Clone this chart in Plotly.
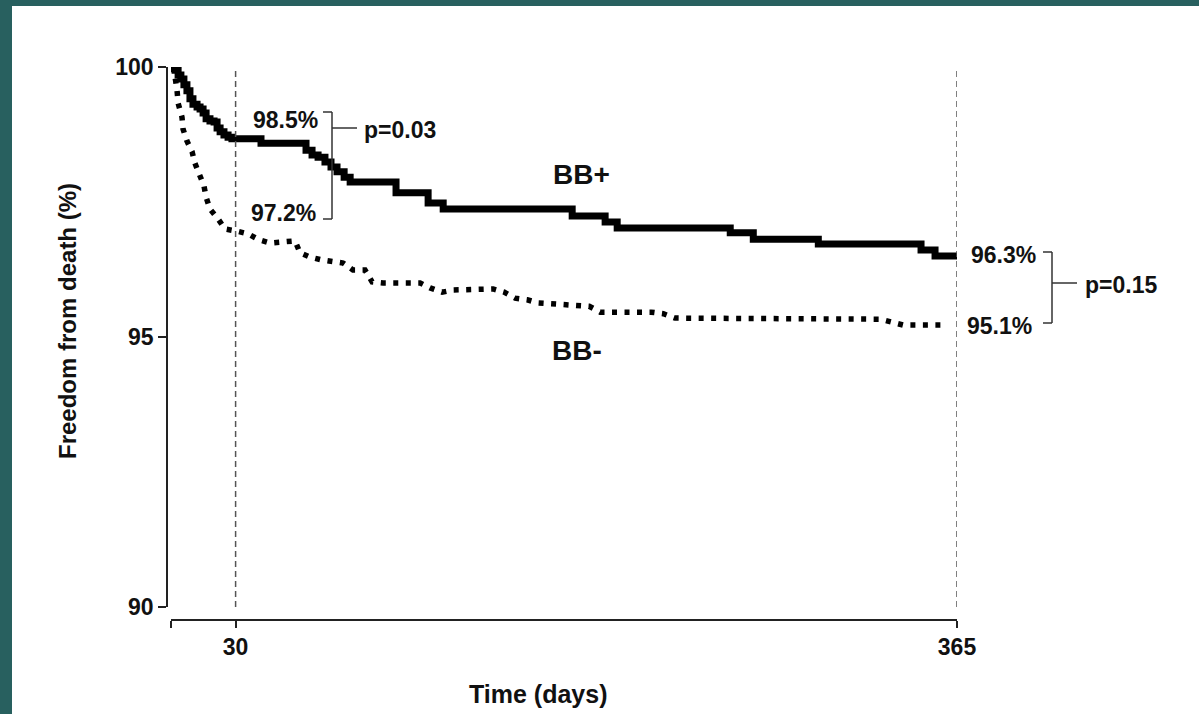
import plotly.graph_objects as go

W, H = 1199, 714

# ---------------- data ----------------
bbp_days = [0, 1.9, 3.3, 4.6, 6.0, 7.4, 8.8, 10.2, 12.1, 13.5, 14.9, 16.3, 18.1, 20.0,
            21.4, 22.8, 24.6, 26.5, 28.3, 41.8, 62.7, 65.5, 68.3, 71.5, 74.3, 77.1,
            80.4, 83.2, 104.5, 119.4, 126.4, 186.3, 201.6, 207.2, 259.7, 270.4,
            300.6, 348.3, 354.8, 365]
bbp_surv = [100, 99.94, 99.85, 99.78, 99.67, 99.56, 99.41, 99.31, 99.26, 99.22, 99.15,
            99.04, 99.00, 98.98, 98.87, 98.80, 98.74, 98.70, 98.67, 98.59, 98.46,
            98.37, 98.33, 98.24, 98.15, 98.06, 97.96, 97.87, 97.67, 97.48, 97.37,
            97.24, 97.13, 97.02, 96.93, 96.81, 96.72, 96.61, 96.50, 96.50]

bbm_days = [0, 1.9, 2.8, 3.3, 5.1, 5.6, 7.4, 9.8, 11.1, 13.0, 15.3, 16.3, 18.1, 21.8,
            25.1, 30.7, 35.8, 40.9, 46.0, 51.6, 57.6, 59.9, 64.6, 69.7, 74.8, 79.9,
            84.5, 90.1, 93.4, 98.5, 115.7, 120.3, 125.9, 131.0, 149.6, 154.7, 159.8,
            165.4, 170.5, 177.0, 194.2, 199.3, 223.0, 228.6, 234.1, 329.4, 334.9,
            340.1, 358.2]
bbm_surv = [100, 99.81, 99.57, 99.33, 99.07, 98.85, 98.63, 98.43, 98.22, 98.00, 97.80,
            97.59, 97.37, 97.19, 97.00, 96.96, 96.91, 96.80, 96.74, 96.76, 96.78,
            96.56, 96.48, 96.43, 96.39, 96.37, 96.24, 96.24, 96.02, 96.00, 96.00,
            95.91, 95.83, 95.87, 95.89, 95.83, 95.72, 95.69, 95.63, 95.61, 95.57,
            95.46, 95.46, 95.43, 95.35, 95.33, 95.26, 95.22, 95.22]

x_ticks = [0, 30, 365]
x_ticklabels = ["", "30", "365"]
y_ticks = [90, 95, 100]
y_ticklabels = ["90", "95", "100"]
ref_days = [30, 365]

# ---------------- helpers (pixel -> paper) ----------------
def px(x):
    return x / W

def py(y):
    return 1 - y / H

FONT = "Liberation Sans, Arial, Helvetica, sans-serif"
INK = "#111111"

fig = go.Figure()

fig.add_trace(go.Scatter(
    x=bbp_days, y=bbp_surv, mode="lines", line_shape="hv",
    line=dict(color="black", width=7), showlegend=False, hoverinfo="skip"))

fig.add_trace(go.Scatter(
    x=bbm_days, y=bbm_surv, mode="lines",
    line=dict(color="black", width=5.5, dash="5px,7.5px"), showlegend=False,
    hoverinfo="skip"))

shapes = []
# white page on teal background
shapes.append(dict(type="rect", xref="paper", yref="paper", x0=px(12), x1=1.0,
                   y0=0.0, y1=py(6), fillcolor="white", line=dict(width=0),
                   layer="below"))
# dashed reference lines
for d in ref_days:
    shapes.append(dict(type="line", xref="x", yref="y", x0=d, x1=d, y0=90, y1=100,
                       line=dict(color="#555555", width=1.5, dash="6px,4px")))

def bracket(xv, ytop, ybot, ymid, xtick, xmid):
    s = []
    ln = dict(color="#333333", width=1.5)
    s.append(dict(type="line", xref="paper", yref="paper", x0=px(xtick), x1=px(xv),
                  y0=py(ytop), y1=py(ytop), line=ln))
    s.append(dict(type="line", xref="paper", yref="paper", x0=px(xv), x1=px(xv),
                  y0=py(ytop), y1=py(ybot), line=ln))
    s.append(dict(type="line", xref="paper", yref="paper", x0=px(xtick), x1=px(xv),
                  y0=py(ybot), y1=py(ybot), line=ln))
    s.append(dict(type="line", xref="paper", yref="paper", x0=px(xv), x1=px(xmid),
                  y0=py(ymid), y1=py(ymid), line=ln))
    return s

shapes += bracket(332, 112, 219, 128, 323, 357)
shapes += bracket(1052, 252, 323, 283, 1043, 1077)

annotations = []
def label(text, x, y, size=23):
    annotations.append(dict(text=text, xref="paper", yref="paper", x=px(x), y=py(y),
                            xanchor="center", yanchor="middle", showarrow=False,
                            font=dict(family=FONT, size=size, color=INK, weight="bold")))

label("98.5%", 285, 120)
label("97.2%", 283, 213)
label("p=0.03", 400, 130)
label("96.3%", 1003, 255)
label("95.1%", 999, 326)
label("p=0.15", 1121, 285)
label("BB+", 581, 174, 28)
label("BB-", 577, 350, 28)
label("Time (days)", 538, 694, 25)
annotations.append(dict(text="Freedom from death (%)", xref="paper", yref="paper",
                        x=px(68), y=py(321), xanchor="center", yanchor="middle",
                        textangle=-90, showarrow=False,
                        font=dict(family=FONT, size=24, color=INK, weight="bold")))

tickfont = dict(family=FONT, size=23, color=INK, weight="bold")

fig.update_layout(
    width=W, height=H,
    margin=dict(l=0, r=0, t=0, b=0, pad=0, autoexpand=False),
    paper_bgcolor="#28605f",
    plot_bgcolor="rgba(0,0,0,0)",
    shapes=shapes,
    annotations=annotations,
    xaxis=dict(domain=[px(171), px(957)], range=[0, 365], anchor="free",
               position=py(620), showline=True, linecolor="#222222", linewidth=1.5,
               ticks="outside", ticklen=7, tickwidth=1.5, tickcolor="#222222",
               tickvals=x_ticks, ticktext=x_ticklabels, tickfont=tickfont,
               showgrid=False, zeroline=False, automargin=False),
    yaxis=dict(domain=[py(607), py(67)], range=[90, 100], anchor="free",
               position=px(167), showline=True, linecolor="#222222", linewidth=1.5,
               ticks="outside", ticklen=8, tickwidth=1.5, tickcolor="#222222",
               tickvals=y_ticks, ticktext=y_ticklabels, tickfont=tickfont,
               showgrid=False, zeroline=False, automargin=False),
)

fig.write_html("out.html")
